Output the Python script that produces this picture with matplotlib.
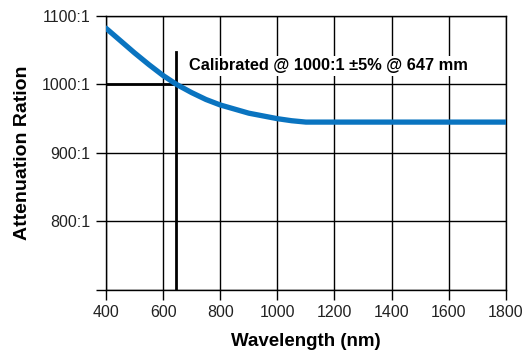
import numpy as np
import matplotlib.pyplot as plt

plt.rcParams['font.family'] = ['Liberation Sans', 'DejaVu Sans']

# curve
wavelength = [400, 450, 500, 550, 600, 647, 700, 750, 800, 900, 1000, 1050, 1100, 1200, 1400, 1600, 1800]
ratio = [1082, 1064, 1046, 1029, 1013, 1000, 988, 978, 970, 958, 950, 947, 945, 945, 945, 945, 945]

x_ticks = [400, 600, 800, 1000, 1200, 1400, 1600, 1800]
y_ticks = [700, 800, 900, 1000, 1100]
y_labels = ['', '800:1', '900:1', '1000:1', '1100:1']

cal_wl = 647
cal_ratio = 1000

fig = plt.figure(figsize=(5.27, 3.52), dpi=100)
ax = fig.add_axes([0.201, 0.176, 0.759, 0.779])

ax.set_xlim(400, 1800)
ax.set_ylim(700, 1100)
ax.set_xticks(x_ticks)
ax.set_yticks(y_ticks)
ax.set_yticklabels(y_labels)
ax.grid(True, color='black', linewidth=1.0)
ax.set_axisbelow(True)
for s in ax.spines.values():
    s.set_linewidth(1.0)
ax.tick_params(direction='out', length=7, width=1.0, labelsize=11.5, pad=4, labelcolor='#222222')

# calibration markers
ax.plot([cal_wl, cal_wl], [700, 1047], color='black', linewidth=2.0, zorder=3)
ax.plot([400, cal_wl], [cal_ratio, cal_ratio], color='black', linewidth=2.0, zorder=3)

ax.plot(wavelength, ratio, color='#0a74c0', linewidth=3.8, solid_capstyle='round', zorder=4)

ax.text(692, 1027, 'Calibrated @ 1000:1 \u00b15% @ 647 mm', fontsize=11.8, fontweight='bold',
        va='center', ha='left', zorder=5,
        bbox=dict(facecolor='white', edgecolor='none', pad=1.5))

ax.set_xlabel('Wavelength (nm)', fontsize=13.5, fontweight='bold', labelpad=9)
ax.set_ylabel('Attenuation Ration', fontsize=14, fontweight='bold', labelpad=8)

fig.savefig('out.png', dpi=100)
